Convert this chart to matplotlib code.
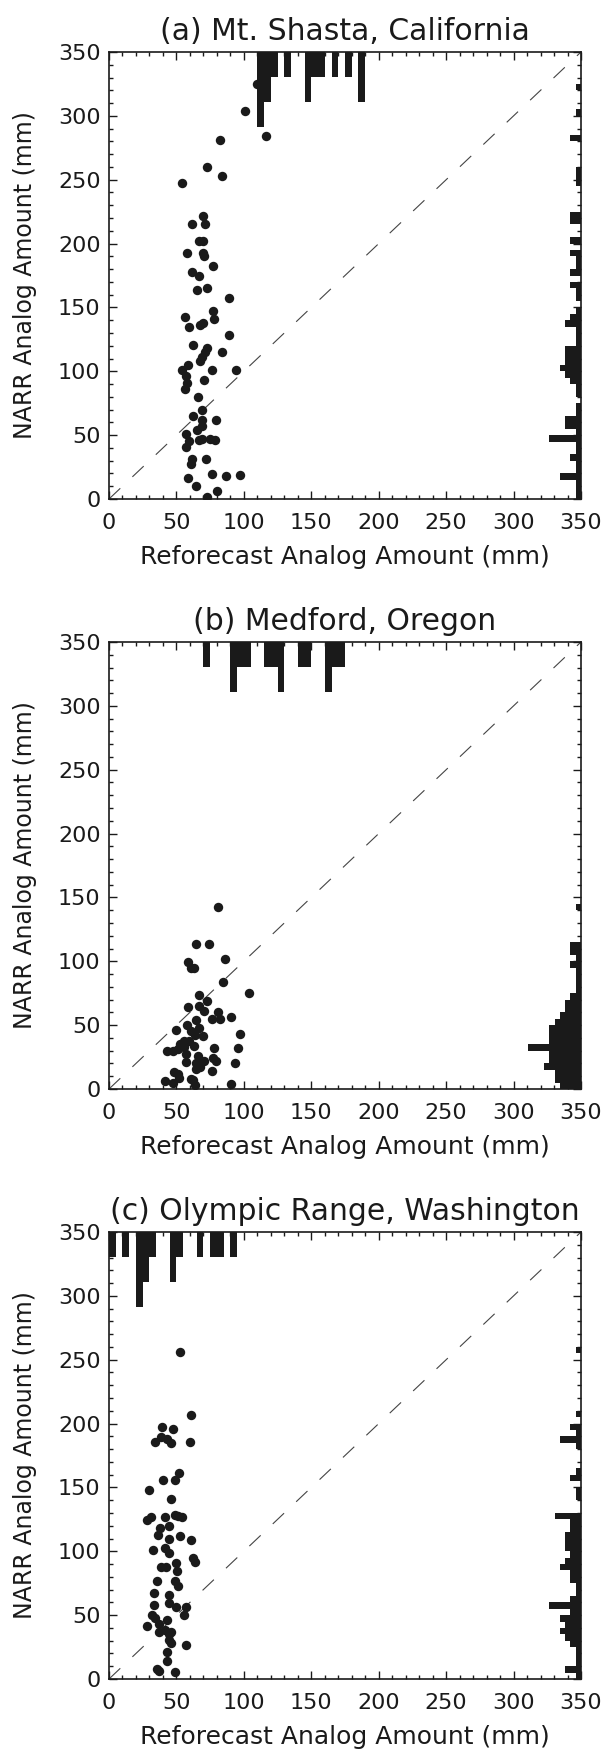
import matplotlib
matplotlib.use("Agg")
import matplotlib.pyplot as plt
from matplotlib.ticker import MultipleLocator

# ---------------- data ----------------
titles = ["(a) Mt. Shasta, California", "(b) Medford, Oregon", "(c) Olympic Range, Washington"]
xlabel = "Reforecast Analog Amount (mm)"
ylabel = "NARR Analog Amount (mm)"
ticks = [0, 50, 100, 150, 200, 250, 300, 350]

# panel (a) scatter
a_x = [109.5, 100.6, 116.2, 82.6, 72.7, 83.6, 54.1, 69.5, 61.3, 71.4, 66.5, 69.5, 57.8, 70.0, 70.5,
       76.9, 61.8, 66.5, 65.0, 72.9, 89.0, 77.4, 56.1, 78.1, 59.6, 67.5, 70.0, 89.0, 62.5, 72.4,
       71.2, 83.8, 68.7, 67.5, 58.3, 54.4, 76.1, 94.2, 56.9, 70.5, 57.6, 56.1, 65.8, 69.2, 62.5,
       69.2, 79.1, 68.7, 65.0, 56.9, 59.3, 66.8, 69.2, 74.9, 78.9, 57.1, 61.3, 60.6, 71.9, 76.6,
       86.5, 97.4, 58.3, 64.5, 79.9, 72.9]
a_y = [324.7, 303.8, 283.9, 281.1, 260.2, 252.9, 247.6, 221.2, 215.2, 215.7, 202.4, 202.4, 192.8, 192.5, 189.9,
       182.8, 177.6, 174.7, 164.0, 165.3, 157.2, 147.0, 142.6, 141.0, 134.5, 136.3, 137.6, 128.5, 120.4, 118.6,
       114.9, 115.4, 111.0, 108.4, 105.0, 101.1, 101.1, 101.1, 96.6, 93.2, 90.9, 85.9, 79.7, 70.0, 64.8,
       62.2, 62.2, 57.5, 54.1, 50.7, 45.7, 46.2, 47.0, 47.0, 46.2, 40.5, 31.3, 27.4, 31.3, 19.6,
       18.3, 18.5, 16.2, 10.2, 6.5, 1.3]
a_top_bins = [110, 115, 120, 130, 145, 150, 155, 165, 175, 185]
a_top_counts = [3, 2, 1, 1, 2, 1, 1, 1, 1, 2]
a_right_bins = [320, 300, 280, 255, 250, 245, 220, 215, 200, 190, 185, 180, 175, 165, 160, 155, 145, 140,
                135, 130, 125, 120, 115, 110, 105, 100, 95, 90, 85, 80, 70, 65, 60, 55, 50, 45, 40, 35,
                30, 25, 20, 15, 10, 5, 0]
a_right_counts = [1, 1, 2, 1, 1, 1, 2, 2, 2, 2, 1, 1, 2, 2, 1, 1, 1, 2,
                  3, 1, 1, 1, 3, 3, 3, 4, 3, 2, 1, 1, 1, 1, 3, 3, 1, 6, 1, 1,
                  2, 1, 1, 4, 1, 1, 1]

# panel (b) scatter
b_x = [80.9, 64.6, 73.9, 58.8, 60.5, 62.8, 85.8, 84.9, 103.5, 66.9, 72.7, 70.1, 58.8, 66.9, 76.2,
       80.9, 82.6, 90.8, 64.6, 50.0, 60.5, 66.9, 64.0, 69.8, 97.2, 52.9, 55.8, 47.1, 42.7, 51.5,
       57.3, 62.8, 66.0, 78.0, 95.4, 70.4, 77.1, 79.4, 64.6, 57.0, 93.7, 48.0, 51.2, 64.6, 67.5,
       76.2, 51.8, 41.3, 47.1, 62.5, 64.0, 90.8, 60.5, 58.2, 55.8, 59.6]
b_y = [142.6, 113.4, 113.4, 99.2, 94.6, 94.6, 102.1, 83.9, 74.9, 73.8, 68.8, 61.3, 64.5, 65.1, 55.0,
       59.9, 55.0, 56.1, 54.1, 46.3, 45.4, 47.7, 41.9, 41.4, 42.8, 35.6, 32.7, 29.8, 29.8, 31.0,
       27.5, 33.3, 26.0, 31.8, 31.8, 21.7, 24.0, 21.7, 20.0, 21.1, 20.0, 13.6, 11.6, 15.3, 17.4,
       14.2, 8.7, 6.4, 4.9, 6.7, 2.9, 3.8, 7.8, 50.0, 37.6, 37.6]
b_top_bins = [70, 90, 95, 100, 115, 120, 125, 140, 145, 160, 165, 170]
b_top_counts = [1, 2, 1, 1, 1, 1, 2, 1, 1, 2, 1, 1]
b_right_bins = [140, 110, 105, 100, 95, 90, 85, 80, 75, 70, 65, 60, 55, 50, 45, 40, 35, 30, 25, 20,
                15, 10, 5, 0]
b_right_counts = [1, 2, 2, 1, 2, 1, 1, 1, 1, 2, 3, 3, 4, 5, 6, 6, 6, 10, 6, 6,
                  7, 5, 5, 4]

# panel (c) scatter
c_x = [53.0, 60.8, 60.2, 39.0, 47.4, 34.0, 38.4, 42.7, 46.2, 52.1, 39.8, 48.6, 30.0, 46.2, 28.2,
       31.4, 41.3, 48.6, 51.5, 54.4, 44.8, 37.8, 36.4, 53.0, 60.8, 44.8, 32.6, 41.3, 44.2, 62.2,
       64.0, 38.4, 42.2, 49.5, 50.6, 35.5, 48.6, 51.5, 33.4, 44.2, 33.1, 44.8, 50.0, 57.3, 32.0,
       55.3, 28.5, 34.0, 37.0, 42.7, 37.0, 41.3, 44.8, 46.2, 44.2, 45.7, 57.3, 42.7, 43.3, 35.5,
       37.3, 48.6]
c_y = [255.9, 207.0, 185.9, 197.2, 195.7, 185.9, 189.5, 188.0, 185.0, 161.4, 155.9, 155.9, 148.3, 141.3, 124.7,
       126.9, 126.9, 128.4, 127.5, 126.9, 120.1, 118.6, 112.5, 111.6, 109.1, 109.4, 100.9, 102.4, 98.4, 94.8,
       91.7, 88.0, 87.7, 90.8, 84.7, 76.4, 76.4, 72.5, 67.3, 65.7, 58.1, 59.6, 56.6, 56.6, 50.4,
       49.8, 41.3, 47.4, 43.4, 46.5, 36.7, 38.2, 35.2, 36.7, 30.6, 28.4, 26.9, 21.4, 13.8, 7.6,
       6.1, 5.2]
c_top_bins = [0, 10, 20, 25, 30, 45, 50, 65, 75, 80, 90]
c_top_counts = [1, 1, 3, 2, 1, 2, 1, 1, 1, 1, 1]
c_right_bins = [255, 205, 195, 190, 185, 180, 160, 155, 145, 140, 125, 120, 115, 110, 105, 100, 95, 90,
                85, 80, 75, 70, 65, 60, 55, 50, 45, 40, 35, 30, 25, 20, 15, 10, 5, 0]
c_right_counts = [1, 1, 2, 1, 4, 1, 1, 2, 1, 1, 5, 2, 2, 3, 3, 3, 2, 3,
                  4, 2, 2, 1, 1, 2, 6, 2, 4, 3, 4, 3, 2, 1, 1, 1, 3, 1]

panels = [
    (a_x, a_y, a_top_bins, a_top_counts, a_right_bins, a_right_counts),
    (b_x, b_y, b_top_bins, b_top_counts, b_right_bins, b_right_counts),
    (c_x, c_y, c_top_bins, c_top_counts, c_right_bins, c_right_counts),
]

# ---------------- style / layout ----------------
W, H = 615, 1754
DPI = 100
LIM = 350
BIN = 5
TOP_UNIT = 19.7     # depth (data units) per count, top histogram
RIGHT_UNIT = 3.9    # depth (data units) per count, right histogram
ax_left_px, ax_right_px = 109, 581
ax_tops_px = [52, 642, 1232]
ax_h_px = 447
INK = '#1a1a1a'

plt.rcParams['font.family'] = ['DejaVu Sans']
fig = plt.figure(figsize=(W / DPI, H / DPI), dpi=DPI, facecolor='white')
ax_w_px = ax_right_px - ax_left_px

for i, (xs, ys, tb, tc, rb, rc) in enumerate(panels):
    top = ax_tops_px[i]
    ax = fig.add_axes([ax_left_px / W, 1 - (top + ax_h_px) / H,
                       ax_w_px / W, ax_h_px / H])
    ax.set_xlim(0, LIM)
    ax.set_ylim(0, LIM)

    # diagonal
    ax.plot([0, LIM], [0, LIM], color='#444444', lw=0.8, dashes=(14, 15))

    # top histogram (hanging from the top axis)
    ax.bar(tb, [-c * TOP_UNIT for c in tc], width=BIN, bottom=LIM, align='edge',
           color=INK, linewidth=0)
    # right histogram (extending left from the right axis)
    ax.barh(rb, [-c * RIGHT_UNIT for c in rc], height=BIN, left=LIM, align='edge',
            color=INK, linewidth=0)

    ax.scatter(xs, ys, s=46, color=INK, linewidths=0, zorder=3)

    ax.set_xticks(ticks)
    ax.set_yticks(ticks)
    ax.xaxis.set_minor_locator(MultipleLocator(10))
    ax.yaxis.set_minor_locator(MultipleLocator(10))
    ax.tick_params(which='both', direction='in', top=True, right=True, width=1.0, color=INK)
    ax.tick_params(which='major', length=5.5)
    ax.tick_params(which='minor', length=3)
    ax.tick_params(axis='x', which='major', labelsize=16, pad=10, labelcolor=INK)
    ax.tick_params(axis='y', which='major', labelsize=16, pad=6, labelcolor=INK)
    for sp in ax.spines.values():
        sp.set_linewidth(1.2)
        sp.set_color(INK)

    ax.set_title(titles[i], fontsize=21.5, pad=9, color=INK)
    ax.set_xlabel(xlabel, fontsize=18, color=INK, va='top')
    ax.xaxis.set_label_coords(0.5, -46 / ax_h_px)
    ax.set_ylabel(ylabel, fontsize=17, color=INK)
    ax.yaxis.set_label_coords(-72 / ax_w_px, 0.5)

fig.savefig("out.png", dpi=DPI, facecolor='white')
